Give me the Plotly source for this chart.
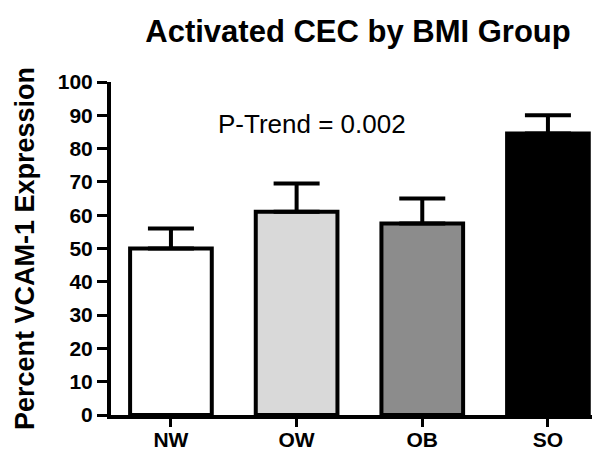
import plotly.graph_objects as go

categories = ["NW", "OW", "OB", "SO"]
means = [50, 61, 57.5, 84.5]
sem = [6, 8.5, 7.5, 5.5]
bar_colors = ["#ffffff", "#d9d9d9", "#8c8c8c", "#000000"]
y_ticks = [0, 10, 20, 30, 40, 50, 60, 70, 80, 90, 100]

FONT = "Arial, 'Liberation Sans', sans-serif"

fig = go.Figure()
fig.add_trace(go.Bar(
    x=list(range(len(categories))),
    y=means,
    marker=dict(color=bar_colors, line=dict(color="black", width=4)),
    width=0.65,
    error_y=dict(type="data", symmetric=False, array=sem,
                 arrayminus=[0] * len(sem), color="black",
                 thickness=4, width=23),
    showlegend=False,
))

fig.add_annotation(x=1.122, y=87.4, text="P-Trend = 0.002", showarrow=False,
                   font=dict(family=FONT, size=26, color="black"))

fig.update_layout(
    template="none",
    width=600, height=450,
    margin=dict(l=103, r=0, t=74, b=43, pad=0),
    paper_bgcolor="white", plot_bgcolor="white",
    title=dict(text="<b>Activated CEC by BMI Group</b>", x=350 / 600, xanchor="center",
               y=1 - 23 / 450, yanchor="middle",
               font=dict(family=FONT, size=31, color="black")),
    xaxis=dict(range=[-0.477, 3.478], tickmode="array",
               tickvals=list(range(len(categories))),
               ticktext=["<b>%s</b>" % c for c in categories],
               showline=True, linecolor="black", linewidth=4, automargin=False,
               ticks="outside", ticklen=8, tickwidth=3, tickcolor="black",
               ticklabelstandoff=-5,
               showgrid=False, zeroline=False,
               tickfont=dict(family=FONT, size=21, color="black")),
    yaxis=dict(range=[0, 100], tickmode="array", tickvals=y_ticks,
               ticktext=["<b>%d</b>" % v for v in y_ticks],
               showline=True, linecolor="black", linewidth=4, automargin=False,
               ticks="outside", ticklen=10, tickwidth=3, tickcolor="black",
               showgrid=False, zeroline=False,
               tickfont=dict(family=FONT, size=21, color="black"),
               title=dict(text="<b>Percent VCAM-1 Expression</b>", standoff=16,
                          font=dict(family=FONT, size=27, color="black"))),
)

fig.write_html("out.html")
